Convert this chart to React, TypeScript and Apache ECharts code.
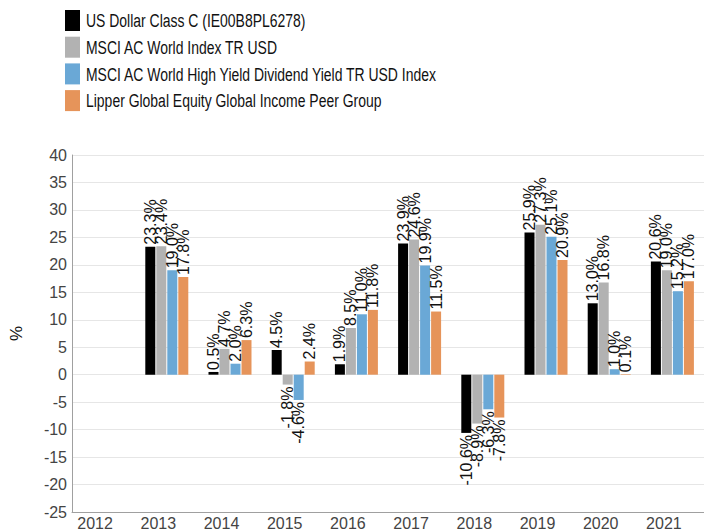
import React, { useEffect, useRef } from "react";
import * as echarts from "echarts";

const years = ["2012", "2013", "2014", "2015", "2016", "2017", "2018", "2019", "2020", "2021"];
const seriesNames = [
  "US Dollar Class C (IE00B8PL6278)",
  "MSCI AC World Index TR USD",
  "MSCI AC World High Yield Dividend Yield TR USD Index",
  "Lipper Global Equity Global Income Peer Group",
];
const fundValues = [null, 23.3, 0.5, 4.5, 1.9, 23.9, -10.6, 25.9, 13.0, 20.6];
const msciWorldValues = [null, 23.4, 4.7, -1.8, 8.5, 24.6, -8.9, 27.3, 16.8, 19.0];
const highYieldValues = [null, 19.0, 2.0, -4.6, 11.0, 19.9, -6.3, 25.1, 1.0, 15.2];
const lipperValues = [null, 17.8, 6.3, 2.4, 11.8, 11.5, -7.8, 20.9, 0.1, 17.0];
const colors = ["#000000", "#b2b2b2", "#6aa8d6", "#e6945a"];

export default function App() {
  const ref = useRef<HTMLDivElement>(null);
  useEffect(() => {
    document.body.style.margin = "0";
    document.body.style.overflow = "hidden";
    const chart = echarts.init(ref.current!, null, { renderer: "svg" });
    const all = [fundValues, msciWorldValues, highYieldValues, lipperValues];
    const series = all.map((vals, i) => ({
      name: seriesNames[i],
      type: "bar",
      barWidth: 10,
      barGap: "10%",
      itemStyle: { color: colors[i] },
      label: {
        show: true,
        position: "outside",
        rotate: 90,
        distance: 2,
        fontSize: 16,
        fontFamily: "Liberation Sans, Arial, sans-serif",
        color: "#111",
        formatter: (p: any) => (p.value == null ? "" : Number(p.value).toFixed(1) + "%"),
      },
      data: vals.map((v) =>
        v == null
          ? null
          : { value: v, label: { align: v < 0 ? "right" : "left", verticalAlign: "middle" } }
      ),
    }));
    const legendGraphics: any[] = [];
    seriesNames.forEach((name, i) => {
      const top = 10 + i * 26.7;
      legendGraphics.push({
        type: "rect",
        x: 65,
        y: top,
        shape: { x: 0, y: 0, width: 15, height: 21 },
        style: { fill: colors[i] },
      });
      legendGraphics.push({
        type: "text",
        x: 86,
        y: top + 11,
        scaleX: 0.735,
        style: {
          text: name,
          fontSize: 19,
          fontFamily: "Liberation Sans, Arial, sans-serif",
          fill: "#111",
          verticalAlign: "middle",
          align: "left",
        },
      });
    });
    chart.setOption({
      animation: false,
      backgroundColor: "#ffffff",
      color: colors,
      graphic: legendGraphics,
      grid: { left: 63, top: 155, width: 648, height: 357 },
      xAxis: {
        type: "category",
        data: years,
        axisLine: { onZero: false, lineStyle: { color: "#a0a0a0" } },
        axisTick: { show: false },
        axisLabel: {
          fontSize: 16,
          fontFamily: "Liberation Sans, Arial, sans-serif",
          color: "#444",
          margin: 3,
          padding: [0, 17, 0, 0],
        },
      },
      yAxis: {
        type: "value",
        min: -25,
        max: 40,
        interval: 5,
        name: "%",
        nameLocation: "middle",
        nameGap: 47,
        nameTextStyle: { fontSize: 17, color: "#111", fontFamily: "Liberation Sans, Arial, sans-serif" },
        axisLine: { show: true, lineStyle: { color: "#a0a0a0" } },
        axisTick: { show: false },
        splitLine: { lineStyle: { color: "#e6e6e6" } },
        axisLabel: {
          fontSize: 16,
          fontFamily: "Liberation Sans, Arial, sans-serif",
          color: "#444",
          margin: 5,
        },
      },
      series,
    });
    return () => chart.dispose();
  }, []);
  return <div ref={ref} style={{ width: 704, height: 531 }} />;
}
